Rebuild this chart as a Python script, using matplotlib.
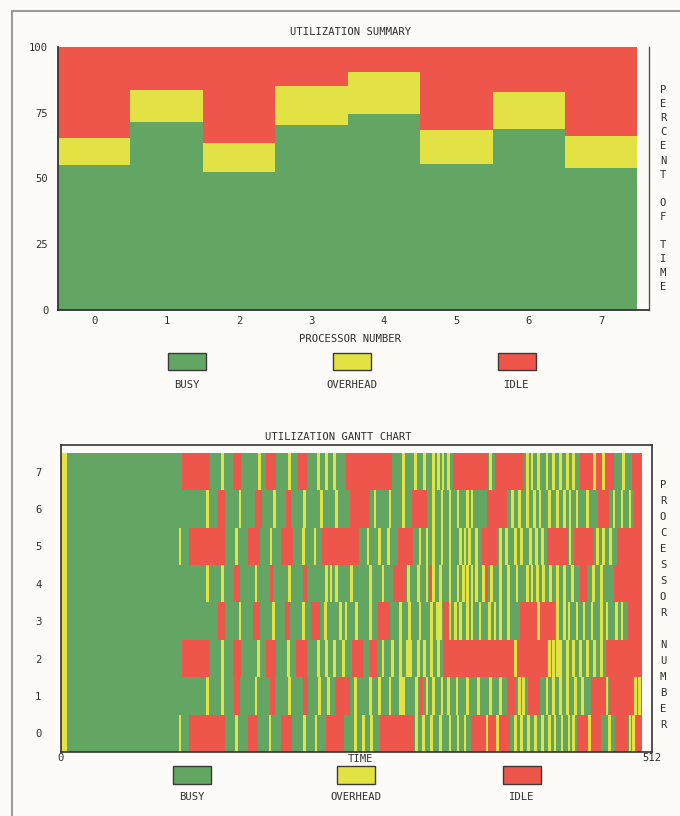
import matplotlib
matplotlib.use("Agg")
import matplotlib.pyplot as plt
from matplotlib.patches import Rectangle
from matplotlib.lines import Line2D

# ---------------- data ----------------
processors = [0, 1, 2, 3, 4, 5, 6, 7]
busy_pct = [55, 71.5, 52.5, 70.5, 74.5, 55.5, 69, 54]
overhead_pct = [10.5, 12, 11, 14.5, 16, 13, 14, 12]
idle_pct = [100 - b - o for b, o in zip(busy_pct, overhead_pct)]

t_max = 512
t_end = 503
init_overhead = 5

idle_0 = [(111, 142), (162, 171), (191, 200), (230, 245), (276, 306), (355, 389), (447, 468), (480, 491), (498, 503)]
ovh_0 = [103, 152, 181, 211, 221, 255, 262, 269, 308, 314, 321, 329, 337, 344, 350, 369, 378, 394, 399, 405, 411,
         417, 423, 428, 434, 440, 444, 458, 475, 493, 496]
idle_1 = [(150, 155), (181, 185), (210, 214), (237, 250), (310, 314), (386, 394), (405, 415), (459, 472), (475, 496)]
ovh_1 = [127, 140, 169, 198, 224, 232, 255, 268, 276, 285, 294, 297, 308, 317, 323, 330, 336, 343, 352, 362, 372,
         381, 397, 401, 421, 427, 433, 439, 446, 452, 473, 498, 501]
idle_2 = [(105, 129), (149, 156), (178, 186), (204, 213), (252, 262), (268, 274), (331, 421), (472, 503)]
ovh_2 = [140, 171, 197, 223, 230, 237, 245, 279, 287, 294, 300, 303, 310, 315, 321, 327, 394, 423, 427, 430, 433,
         439, 444, 450, 456, 462, 468]
idle_3 = [(136, 142), (166, 172), (194, 198), (217, 224), (275, 285), (331, 336), (398, 428), (491, 503)]
ovh_3 = [155, 184, 210, 229, 242, 247, 256, 268, 294, 302, 311, 321, 326, 329, 337, 342, 346, 352, 356, 363, 371,
         376, 381, 388, 414, 430, 436, 440, 447, 453, 460, 468, 473, 481, 486]
idle_4 = [(150, 155), (181, 184), (210, 213), (288, 299), (319, 322), (367, 370), (450, 456), (479, 503)]
ovh_4 = [127, 140, 169, 198, 230, 234, 239, 252, 268, 279, 301, 310, 317, 323, 329, 337, 344, 349, 352, 356, 360,
         366, 373, 381, 388, 395, 404, 408, 413, 418, 424, 430, 436, 443, 461, 468]
idle_5 = [(111, 142), (162, 172), (191, 201), (226, 258), (292, 305), (365, 378), (421, 439), (444, 462), (482, 503)]
ovh_5 = [103, 152, 182, 210, 220, 266, 276, 284, 311, 317, 323, 330, 337, 346, 350, 354, 360, 381, 386, 394, 399,
         407, 412, 417, 441, 465, 470, 476]
idle_6 = [(136, 142), (168, 174), (195, 199), (250, 268), (304, 317), (369, 386), (465, 475), (496, 503)]
ovh_6 = [127, 155, 185, 211, 226, 239, 272, 285, 297, 323, 330, 337, 344, 352, 356, 391, 397, 404, 410, 415, 423,
         430, 436, 441, 447, 456, 479, 486, 493]
idle_7 = [(105, 129), (149, 156), (178, 186), (205, 213), (247, 287), (340, 370), (376, 401), (450, 479), (495, 503)]
ovh_7 = [140, 172, 198, 223, 230, 237, 297, 307, 315, 323, 327, 331, 336, 372, 404, 408, 414, 421, 427, 433, 439,
         444, 462, 470, 487]

idle_rows = [idle_0, idle_1, idle_2, idle_3, idle_4, idle_5, idle_6, idle_7]
ovh_rows = [ovh_0, ovh_1, ovh_2, ovh_3, ovh_4, ovh_5, ovh_6, ovh_7]

legend_labels = ["BUSY", "OVERHEAD", "IDLE"]

# ---------------- style ----------------
GREEN = "#63a663"
YELLOW = "#e2e244"
RED = "#ee564b"
TXT = "#2e2e2e"
FONT = "DejaVu Sans Mono"
FS = 7.6
W, H = 680, 816


def fx(px):
    return px / W


def fy(py):
    return 1 - py / H


fig = plt.figure(figsize=(6.8, 8.16), dpi=100)
fig.patch.set_facecolor("#fcfbf7")

# page border (scan)
fig.add_artist(Line2D([fx(12), fx(12)], [fy(11), fy(816)], color="#9a9a9a", lw=1.5))
fig.add_artist(Line2D([fx(12), fx(680)], [fy(11), fy(11)], color="#9a9a9a", lw=1.5))

# ---------------- upper chart ----------------
ax1 = fig.add_axes([fx(58), fy(310), fx(649) - fx(58), fy(47) - fy(310)])
ax1.set_facecolor("none")
bottom_o = busy_pct
bottom_i = [b + o for b, o in zip(busy_pct, overhead_pct)]
ax1.bar(processors, busy_pct, width=1.0, color=GREEN, edgecolor="none")
ax1.bar(processors, overhead_pct, width=1.0, bottom=bottom_o, color=YELLOW, edgecolor="none")
ax1.bar(processors, idle_pct, width=1.0, bottom=bottom_i, color=RED, edgecolor="none")
ax1.set_xlim(-0.5, 7.66)
ax1.set_ylim(0, 100)
ax1.set_xticks(processors)
ax1.set_xticklabels([str(p) for p in processors], fontfamily=FONT, fontsize=FS, color=TXT)
ax1.set_yticks([0, 25, 50, 75, 100])
ax1.set_yticklabels(["0", "25", "50", "75", "100"], fontfamily=FONT, fontsize=FS, color=TXT)
ax1.tick_params(axis="x", length=0, pad=4)
ax1.tick_params(axis="y", length=0, pad=7)
ax1.spines["top"].set_visible(False)
for s in ["left", "bottom"]:
    ax1.spines[s].set_color("#333333")
    ax1.spines[s].set_linewidth(1.3)
ax1.spines["right"].set_color("#555555")
ax1.spines["right"].set_linewidth(1.0)

fig.text(fx(351), fy(32), "UTILIZATION SUMMARY", ha="center", va="center",
         fontfamily=FONT, fontsize=FS, color=TXT)
fig.text(fx(350), fy(339), "PROCESSOR NUMBER", ha="center", va="center",
         fontfamily=FONT, fontsize=FS, color=TXT)

label1 = "PERCENT OF TIME"
for k, ch in enumerate(label1):
    if ch != " ":
        fig.text(fx(663), fy(90 + k * 14.1), ch, ha="center", va="center",
                 fontfamily=FONT, fontsize=FS, color=TXT)

legend_colors = [GREEN, YELLOW, RED]
for cx, col, lab in zip([187, 352, 517], legend_colors, legend_labels):
    fig.add_artist(Rectangle((fx(cx - 19), fy(370)), 38 / W, 17 / H, transform=fig.transFigure,
                             facecolor=col, edgecolor="#3a3a3a", lw=1.0))
    fig.text(fx(cx), fy(385), lab, ha="center", va="center", fontfamily=FONT, fontsize=FS, color=TXT)

# ---------------- Gantt chart ----------------
ax2 = fig.add_axes([fx(61), fy(752), fx(652) - fx(61), fy(445) - fy(752)])
ax2.set_facecolor("none")
ow = 2.4
for r in processors:
    ax2.broken_barh([(0, t_end)], (r - 0.5, 1.0), facecolors=GREEN, edgecolor="none")
    ax2.broken_barh([(0, init_overhead)], (r - 0.5, 1.0), facecolors=YELLOW, edgecolor="none")
    ax2.broken_barh([(a, b - a) for a, b in idle_rows[r]], (r - 0.5, 1.0), facecolors=RED, edgecolor="none")
    ax2.broken_barh([(t - ow / 2, ow) for t in ovh_rows[r]], (r - 0.5, 1.0), facecolors=YELLOW, edgecolor="none")
ax2.set_xlim(0, t_max)
ax2.set_ylim(-0.5, 7.71)
ax2.set_yticks(processors)
ax2.set_yticklabels([str(p) for p in processors], fontfamily=FONT, fontsize=FS, color=TXT)
ax2.set_xticks([0, t_max])
ax2.set_xticklabels(["0", str(t_max)], fontfamily=FONT, fontsize=FS, color=TXT)
ax2.tick_params(axis="y", length=0, pad=14)
ax2.tick_params(axis="x", length=0, pad=1)
for s in ax2.spines.values():
    s.set_color("#333333")
    s.set_linewidth(1.2)

fig.text(fx(338), fy(437), "UTILIZATION GANTT CHART", ha="center", va="center",
         fontfamily=FONT, fontsize=FS, color=TXT)
fig.text(fx(361), fy(759), "TIME", ha="center", va="center",
         fontfamily=FONT, fontsize=FS, color=TXT)

label2 = "PROCESSOR NUMBER"
for k, ch in enumerate(label2):
    if ch != " ":
        fig.text(fx(663), fy(485 + k * 16.0), ch, ha="center", va="center",
                 fontfamily=FONT, fontsize=FS, color=TXT)

for cx, col, lab in zip([192, 356, 522], legend_colors, legend_labels):
    fig.add_artist(Rectangle((fx(cx - 19), fy(784)), 38 / W, 18 / H, transform=fig.transFigure,
                             facecolor=col, edgecolor="#3a3a3a", lw=1.0))
    fig.text(fx(cx), fy(797), lab, ha="center", va="center", fontfamily=FONT, fontsize=FS, color=TXT)

fig.savefig("out.png", dpi=100, facecolor=fig.get_facecolor())
